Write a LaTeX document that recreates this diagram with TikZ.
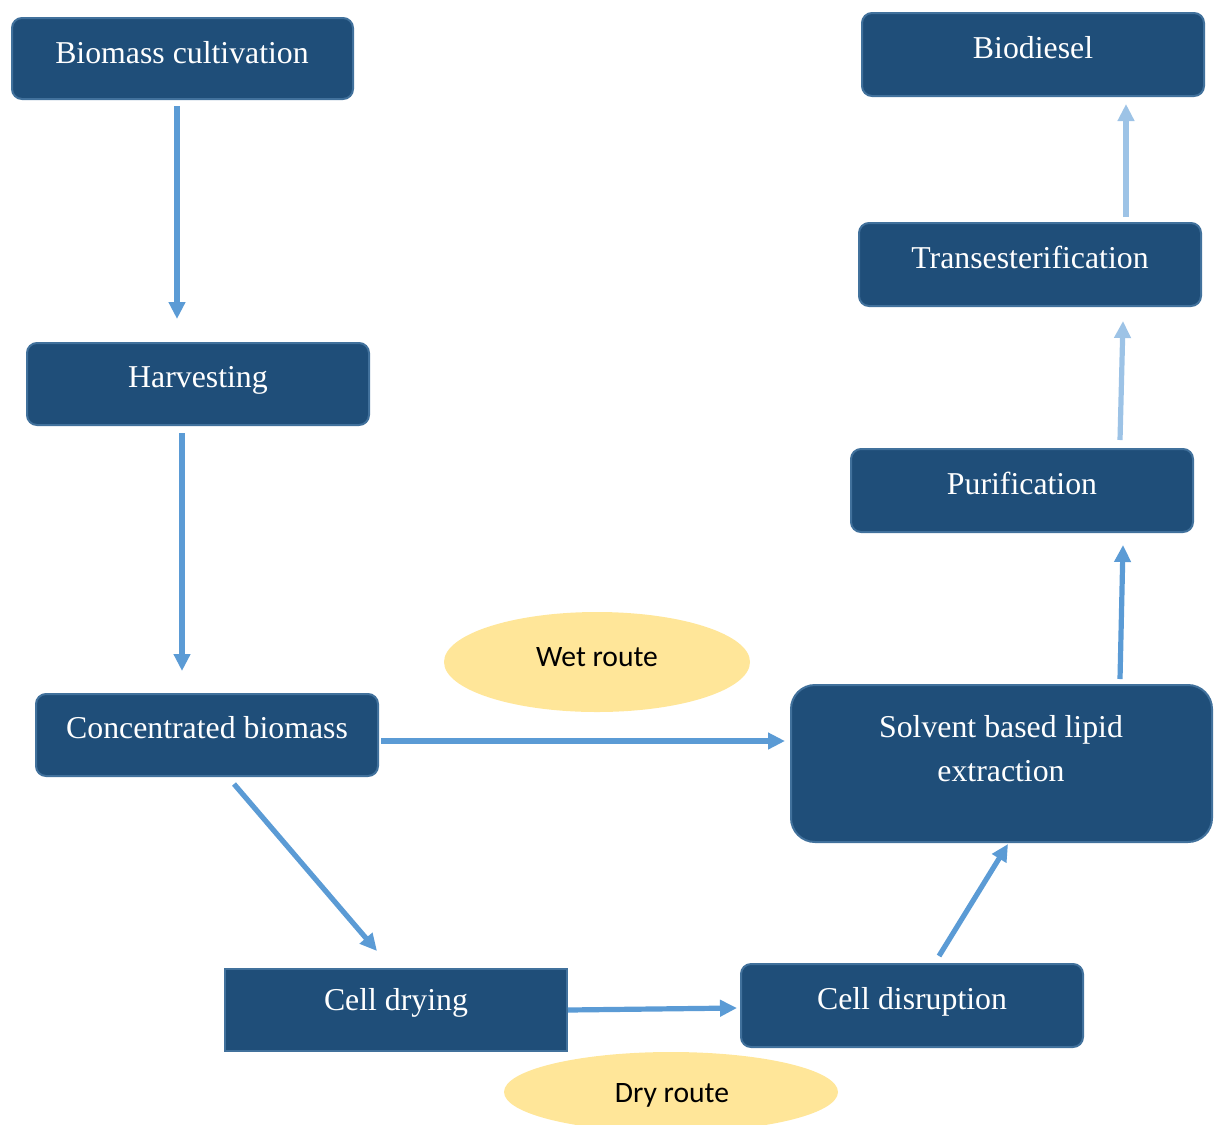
\documentclass[tikz,border=0pt]{standalone}
\usepackage{fontspec}
\setmainfont{Liberation Serif}
\newfontfamily\calfont{Carlito}
\usetikzlibrary{calc,arrows.meta,shapes.geometric}
\definecolor{boxfill}{HTML}{1F4E79}
\definecolor{boxline}{HTML}{41719C}
\definecolor{arr}{HTML}{5B9BD5}
\definecolor{arrlight}{HTML}{9DC3E6}
\definecolor{route}{HTML}{FFE699}
\tikzset{
  box/.style={draw=boxline, fill=boxfill, line width=1pt, rounded corners=5pt, inner sep=0pt},
  boxtxt/.style={text=white, font=\fontsize{15.9}{22}\selectfont, anchor=base, inner sep=0pt},
  routetxt/.style={text=black, font=\calfont\fontsize{14.8}{18}\selectfont, anchor=base, inner sep=0pt},
  flow/.style={draw=arr, line width=2.6pt, -{Triangle[length=8.5pt,width=8pt]}},
  flowlight/.style={draw=arrlight, line width=2.6pt, -{Triangle[length=8.5pt,width=8pt]}},
  routeell/.style={ellipse, fill=route, draw=none, inner sep=0pt}
}
\begin{document}
\begin{tikzpicture}[x=0.5pt,y=-0.5pt]
\useasboundingbox (0,0) rectangle (1219,1124);
% ellipses
\node[routeell, minimum width=153pt, minimum height=50pt] (wet) at (597,662) {};
\node[routeell, minimum width=167pt, minimum height=40pt] (dry) at (671,1092) {};
\node[routetxt] (wett) at (597,666) {Wet route};
\node[routetxt] (dryt) at (672,1102) {Dry route};
% boxes
\node[box, minimum width=170.5pt, minimum height=40.5pt] (bc) at (182.5,58.5) {};
\node[box, minimum width=171pt, minimum height=41pt] (hv) at (198,384) {};
\node[box, minimum width=171pt, minimum height=41pt] (cb) at (207,735) {};
\node[box, rounded corners=0pt, minimum width=171pt, minimum height=41pt] (cd) at (396,1010) {};
\node[box, minimum width=171pt, minimum height=41.5pt] (cr) at (912,1005.5) {};
\node[box, rounded corners=12pt, minimum width=210.5pt, minimum height=78.5pt] (se) at (1001.5,763.5) {};
\node[box, minimum width=171pt, minimum height=41.5pt] (pu) at (1022,490.5) {};
\node[box, minimum width=171pt, minimum height=41.5pt] (tr) at (1030,264.5) {};
\node[box, minimum width=171pt, minimum height=41.5pt] (bd) at (1033,54.5) {};
% texts
\node[boxtxt] (bct) at (182,63) {Biomass cultivation};
\node[boxtxt] (hvt) at (198,387) {Harvesting};
\node[boxtxt] (cbt) at (207,738.5) {Concentrated biomass};
\node[boxtxt] (cdt) at (396,1010) {Cell drying};
\node[boxtxt] (crt) at (912,1009) {Cell disruption};
\node[boxtxt] (set1) at (1001,737.5) {Solvent based lipid};
\node[boxtxt] (set2) at (1001,781) {extraction};
\node[boxtxt] (put) at (1022,494.5) {Purification};
\node[boxtxt] (trt) at (1030,268.3) {Transesterification};
\node[boxtxt] (bdt) at (1033,58.3) {Biodiesel};
% arrows
\draw[flow] ($(bc.south)+(-5.5,6)$) -- ($(hv.north)+(-21,-23)$);
\draw[flow] ($(hv.south)+(-16,7)$) -- ($(cb.north)+(-25,-22)$);
\draw[flow] ($(cb.east)+(2,6)$) -- ($(se.west)+(-5,-22.5)$);
\draw[flow] ($(cb.south)+(27,7)$) -- ($(cd.north)+(-19,-17)$);
\draw[flow] ($(cd.east)+(0,0)$) -- ($(cr.west)+(-3,2.5)$);
\draw[flow] ($(cr.north)+(27,-7)$) -- ($(se.south)+(6.5,1)$);
\draw[flow] ($(se.north)+(118.5,-5)$) -- ($(pu.south)+(101,12)$);
\draw[flowlight] ($(pu.north)+(98,-8)$) -- ($(tr.south)+(93,14)$);
\draw[flowlight] ($(tr.north)+(96,-5)$) -- ($(bd.south)+(93,7)$);
\end{tikzpicture}
\end{document}
